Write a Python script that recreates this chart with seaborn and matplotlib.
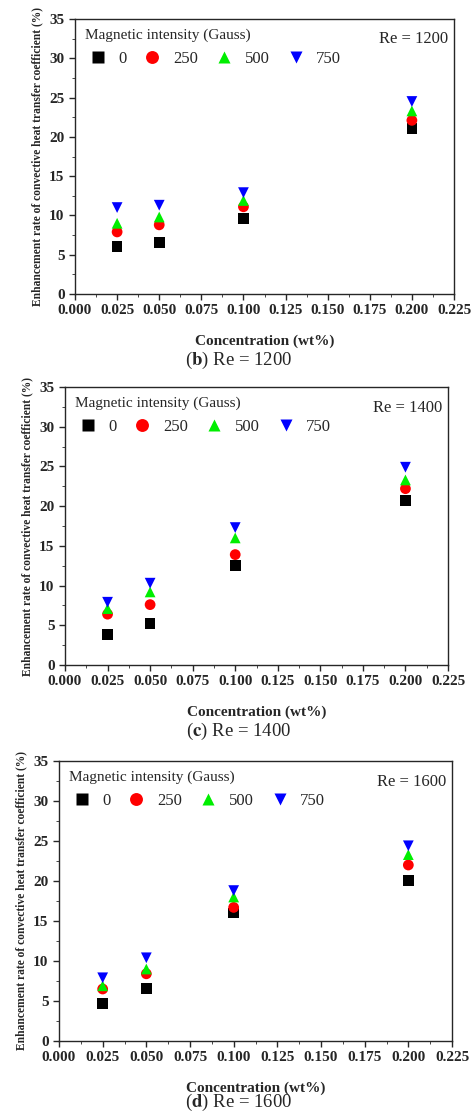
import matplotlib
import pandas as pd
import seaborn as sns

matplotlib.use("Agg")
import matplotlib.pyplot as plt

concentration = [0.025, 0.05, 0.1, 0.2]
intensities = ["0", "250", "500", "750"]

re1200 = {
    "0": [6.0, 6.6, 9.6, 21.1],
    "250": [7.9, 8.8, 11.1, 22.1],
    "500": [9.0, 9.8, 11.9, 23.3],
    "750": [11.0, 11.3, 12.9, 24.5],
}
re1400 = {
    "0": [3.8, 5.2, 12.5, 20.7],
    "250": [6.4, 7.6, 13.9, 22.2],
    "500": [7.1, 9.2, 16.0, 23.3],
    "750": [7.9, 10.3, 17.3, 24.9],
}
re1600 = {
    "0": [4.7, 6.6, 16.0, 20.1],
    "250": [6.5, 8.4, 16.7, 22.0],
    "500": [6.9, 9.0, 18.0, 23.3],
    "750": [7.9, 10.4, 18.8, 24.4],
}

panels = [
    ("b", "1200", re1200, [75, 19, 454, 294], 360),
    ("c", "1400", re1400, [65, 387, 448, 665], 731),
    ("d", "1600", re1600, [59, 761, 452, 1041], 1102),
]

colors = {"0": "black", "250": "red", "500": "#00ee00", "750": "blue"}
markers = {"0": "s", "250": "o", "500": "^", "750": "v"}

sns.set_style("ticks")
plt.rcParams["font.family"] = ["Liberation Serif", "DejaVu Serif"]
plt.rcParams["mathtext.fontset"] = "stix"

W, H = 474, 1119
fig = plt.figure(figsize=(W / 100, H / 100), dpi=100)

for letter, re, data, (l, t, r, b), cap_y in panels:
    ax = fig.add_axes([l / W, 1 - b / H, (r - l) / W, (b - t) / H])
    rows = []
    for g in intensities:
        for x, y in zip(concentration, data[g]):
            rows.append({"conc": x, "val": y, "gauss": g})
    df = pd.DataFrame(rows)
    sns.scatterplot(data=df, x="conc", y="val", hue="gauss", style="gauss",
                    palette=colors, markers=markers, s=60, edgecolor="none",
                    ax=ax)
    ax.set_xlim(0, 0.225)
    ax.set_ylim(0, 35)
    ax.set_xticks([i * 0.025 for i in range(10)])
    ax.set_xticklabels([f"{i * 0.025:.3f}" for i in range(10)])
    ax.set_yticks(range(0, 36, 5))
    ax.set_xticks([i * 0.0125 for i in range(19)], minor=True)
    ax.set_yticks([i * 2.5 for i in range(15)], minor=True)
    ax.tick_params(direction="out", length=4, width=1, labelsize=11)
    ax.tick_params(which="minor", direction="out", length=2.5)
    for lab in ax.get_xticklabels() + ax.get_yticklabels():
        lab.set_fontweight("bold")
    for sp in ax.spines.values():
        sp.set_linewidth(1)
    ax.set_xlabel("Concentration (wt%)", fontweight="bold", fontsize=11,
                  labelpad=12)
    ax.set_ylabel("Enhancement rate of convective heat transfer coefficient (%)",
                  fontweight="bold", fontsize=8.3)
    ax.legend(title="Magnetic intensity (Gauss)", ncol=4, loc="upper left",
              frameon=False, fontsize=12, title_fontsize=11,
              columnspacing=0.8, handletextpad=0.5, borderaxespad=0.2,
              handlelength=1.5, markerscale=1.2)
    ax.get_legend()._legend_box.align = "left"
    ax.text(0.985, 0.955, f"Re = {re}", transform=ax.transAxes, ha="right",
            va="top", fontsize=12)
    fig.text(239 / W, 1 - cap_y / H, rf"($\mathbf{{{letter}}}$) Re = {re}",
             ha="center", va="center", fontsize=13.5)

fig.savefig("out.png", dpi=100)
